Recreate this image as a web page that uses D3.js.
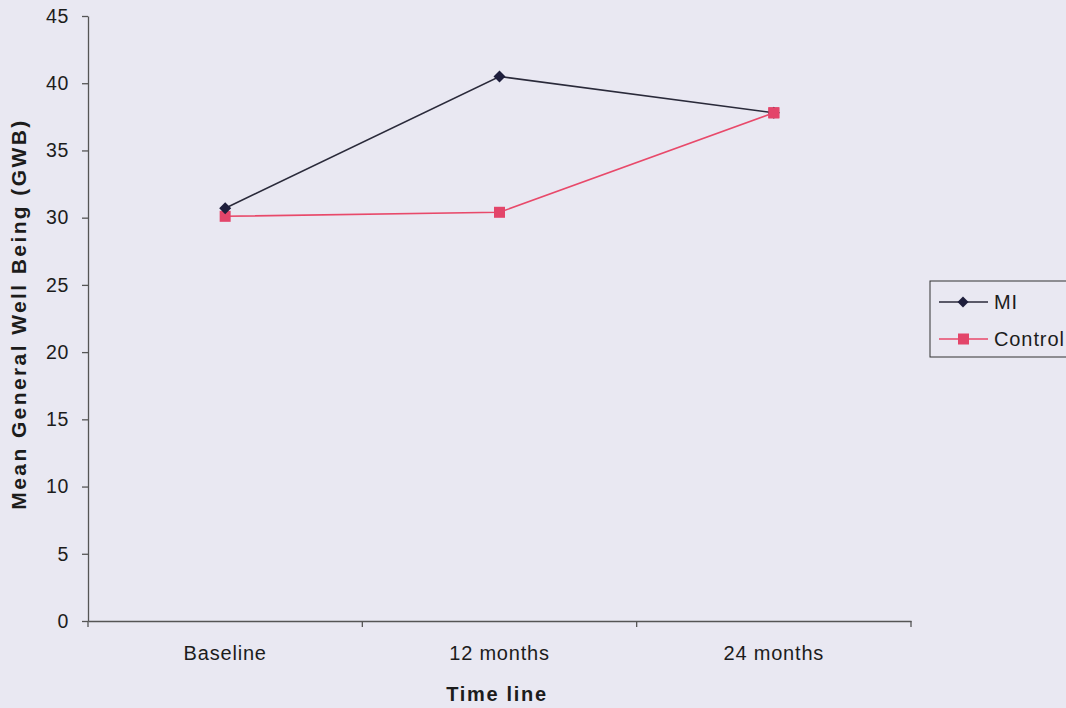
<!DOCTYPE html>
<html><head><meta charset="utf-8">
<script src="https://cdn.jsdelivr.net/npm/d3@7"></script>
<style>
html,body{margin:0;padding:0;background:#e9e8f2;}
svg{display:block;}
text{font-family:"Liberation Sans",Arial,sans-serif;}
</style></head>
<body>
<svg id="chart" width="1066" height="708"></svg>
<script>
const categories = ["Baseline", "12 months", "24 months"];
const miValues = [30.7, 40.5, 37.8];
const controlValues = [30.1, 30.4, 37.8];
const yTicks = [0, 5, 10, 15, 20, 25, 30, 35, 40, 45];
const seriesNames = ["MI", "Control"];

(function () {
const svg = d3.select("#chart");
const mLeft = 88, mRight = 911, mTop = 16, mBottom = 621;

const x = d3.scaleBand().domain(categories).range([mLeft, mRight]).padding(0);
const y = d3.scaleLinear().domain([0, 45]).range([mBottom, mTop]);

const axisColor = "#555";
const textColor = "#1c1c1c";

// Y axis
const yAxis = svg.append("g").attr("transform", `translate(${mLeft},0)`)
  .call(d3.axisLeft(y).tickValues(yTicks).tickSize(6).tickSizeOuter(0).tickPadding(13));
yAxis.select(".domain").attr("stroke", axisColor).attr("stroke-width", 1.3);
yAxis.selectAll(".tick line").attr("stroke", axisColor).attr("stroke-width", 1.3);
yAxis.selectAll(".tick text").attr("font-size", 19.5).attr("letter-spacing", 0.6).attr("fill", textColor);

// X axis
const xAxis = svg.append("g").attr("transform", `translate(0,${mBottom})`)
  .call(d3.axisBottom(x).tickSize(0).tickPadding(25));
xAxis.select(".domain").attr("stroke", axisColor).attr("stroke-width", 1.3);
xAxis.selectAll(".tick text").attr("font-size", 20).attr("letter-spacing", 0.8).attr("fill", textColor);
const bounds = categories.map(c => x(c)).concat([mRight]);
svg.append("g").selectAll("line").data(bounds).join("line")
  .attr("x1", d => d).attr("x2", d => d)
  .attr("y1", mBottom).attr("y2", mBottom + 6)
  .attr("stroke", axisColor).attr("stroke-width", 1.3);

const cx = c => x(c) + x.bandwidth() / 2;
const line = d3.line().x((d, i) => cx(categories[i])).y(d => y(d));
const diamondPath = s => `M0,${-s}L${s},0L0,${s}L${-s},0Z`;

// Control series
svg.append("path").datum(controlValues).attr("d", line)
  .attr("fill", "none").attr("stroke", "#e8496a").attr("stroke-width", 1.6);
svg.append("g").selectAll("rect").data(controlValues).join("rect")
  .attr("x", (d, i) => cx(categories[i]) - 5.5).attr("y", d => y(d) - 5.5)
  .attr("width", 11).attr("height", 11).attr("fill", "#e3456a");

// MI series
svg.append("path").datum(miValues).attr("d", line)
  .attr("fill", "none").attr("stroke", "#2a2a3a").attr("stroke-width", 1.6);
svg.append("g").selectAll("path").data(miValues).join("path")
  .attr("d", diamondPath(6))
  .attr("transform", (d, i) => `translate(${cx(categories[i])},${y(d)})`)
  .attr("fill", "#1e1e3c");

svg.append("rect")
  .attr("x", cx(categories[2]) - 5.5).attr("y", y(controlValues[2]) - 5.5)
  .attr("width", 11).attr("height", 11).attr("fill", "#e3456a");

// Axis titles
svg.append("text").attr("x", 497).attr("y", 701)
  .attr("text-anchor", "middle").attr("font-size", 20).attr("font-weight", "bold")
  .attr("letter-spacing", 1.7).attr("fill", textColor).text("Time line");
svg.append("text")
  .attr("transform", `translate(26,314) rotate(-90)`)
  .attr("text-anchor", "middle").attr("font-size", 21).attr("font-weight", "bold")
  .attr("letter-spacing", 2.4).attr("fill", textColor).text("Mean General Well Being (GWB)");

// Legend
const lg = svg.append("g");
lg.append("rect").attr("x", 930).attr("y", 281).attr("width", 150).attr("height", 76)
  .attr("fill", "none").attr("stroke", "#333").attr("stroke-width", 1);
const lgItems = [
  {name: seriesNames[0], color: "#2a2a3a", y: 302, type: "diamond"},
  {name: seriesNames[1], color: "#e8496a", y: 339, type: "square"}
];
lgItems.forEach(it => {
  lg.append("line").attr("x1", 939).attr("x2", 988).attr("y1", it.y).attr("y2", it.y)
    .attr("stroke", it.color).attr("stroke-width", 1.6);
  if (it.type === "diamond") {
    lg.append("path").attr("d", diamondPath(5.5)).attr("transform", `translate(963,${it.y})`).attr("fill", "#1e1e3c");
  } else {
    lg.append("rect").attr("x", 958).attr("y", it.y - 5.5).attr("width", 11).attr("height", 11).attr("fill", "#e3456a");
  }
  lg.append("text").attr("x", 994).attr("y", it.y + 7).attr("font-size", 20).attr("letter-spacing", 0.9)
    .attr("fill", textColor).text(it.name);
});
})();
</script>
</body></html>
